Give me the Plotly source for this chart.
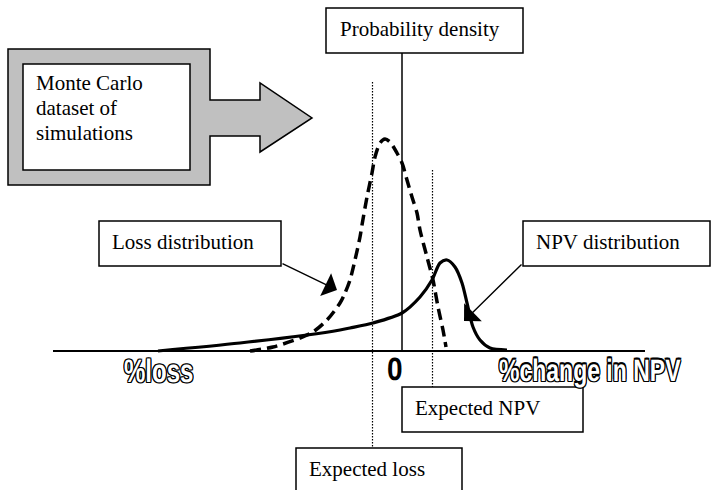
import plotly.graph_objects as go

# ---- data (x: % change relative to 0, y: probability density, arbitrary units) ----
loss_x = [-152, -129, -102, -89, -75, -62, -57, -52, -47, -42, -40, -35, -30, -27, -22,
          -17, -12, -5, 0, 5, 10, 15, 18, 25, 31, 36, 41, 44]
loss_y = [0, 4, 13, 19, 31, 48, 58, 71, 91, 114, 126, 154, 178, 194, 208,
          212, 209, 198, 188, 171, 154, 138, 121, 94, 71, 44, 21, 4]

npv_x = [-244, -162, -95, -62, -52, -29, 0, 18, 30, 38, 45, 53, 60, 65, 71, 78, 88, 105]
npv_y = [0, 8, 16, 21, 23, 28, 38, 54, 71, 88, 91, 84, 68, 48, 24, 11, 3, 1]

expected_loss_x = -30
expected_npv_x = 30

axis_labels = ["%loss", "0", "%change in NPV"]
box_labels = ["Probability density", "Loss distribution", "NPV distribution",
              "Expected NPV", "Expected loss"]
mc_lines = ["Monte Carlo", "dataset of", "simulations"]

# ---- layout helpers: pixel -> axis units ----
OX, OY = 402, 351
def X(px):
    return px - OX
def Y(py):
    return OY - py

SERIF = "Liberation Serif, Times New Roman, serif"
SANS = "Liberation Sans, Arial, sans-serif"
OUTLINE = ("-1px -1px 0 #000, 1px -1px 0 #000, -1px 1px 0 #000, 1px 1px 0 #000, "
           "0 1px 0 #000, 0 -1px 0 #000, 1px 0 0 #000, -1px 0 0 #000")

fig = go.Figure()

fig.add_trace(go.Scatter(x=loss_x, y=loss_y, mode="lines", name="Loss distribution",
                         line=dict(color="black", width=3.5, dash="11px,6px",
                                   shape="spline", smoothing=0.8),
                         hoverinfo="skip"))
fig.add_trace(go.Scatter(x=npv_x, y=npv_y, mode="lines", name="NPV distribution",
                         line=dict(color="black", width=3.2, shape="spline", smoothing=0.8),
                         hoverinfo="skip"))

shapes = []
# horizontal axis & vertical axis
shapes.append(dict(type="line", x0=X(53), x1=X(645), y0=0, y1=0,
                   line=dict(color="black", width=2)))
shapes.append(dict(type="line", x0=0, x1=0, y0=Y(53), y1=0,
                   line=dict(color="black", width=1.5)))
# dotted expectation lines (half-pixel offset for a crisp 1px dotted stroke)
for ex, top, bot in [(expected_loss_x, 82, 448), (expected_npv_x, 170, 387)]:
    shapes.append(dict(type="line", x0=ex + 0.5, x1=ex + 0.5, y0=Y(top), y1=Y(bot),
                       line=dict(color="black", width=1.2, dash="1.5px,1.5px")))

# Monte Carlo gray block arrow
pts = [(8, 49), (210, 49), (210, 100), (260, 100), (260, 83), (312, 118),
       (260, 152), (260, 136), (210, 136), (210, 185), (8, 185)]
path = "M " + " L ".join(f"{X(a)},{Y(b)}" for a, b in pts) + " Z"
shapes.append(dict(type="path", path=path, fillcolor="#c0c0c0",
                   line=dict(color="black", width=1.5)))
shapes.append(dict(type="rect", x0=X(23), x1=X(190), y0=Y(64), y1=Y(170),
                   fillcolor="white", line=dict(color="black", width=1.5)))

# label boxes
boxes = [(326, 8, 523, 53), (99, 221, 281, 266), (523, 221, 710, 266),
         (402, 387, 583, 432), (296, 448, 462, 493)]
for (a, b, c, d) in boxes:
    shapes.append(dict(type="rect", x0=X(a), x1=X(c), y0=Y(b), y1=Y(d),
                       fillcolor="white", line=dict(color="black", width=1.5)))

annotations = []
text_pos = [(338, 29), (110, 242), (534, 242), (413, 408), (307, 469)]
for txt, (a, b) in zip(box_labels, text_pos):
    annotations.append(dict(x=X(a), y=Y(b), text=txt, showarrow=False,
                            xanchor="left", yanchor="middle",
                            font=dict(family=SERIF, size=21, color="black")))
for i, txt in enumerate(mc_lines):
    annotations.append(dict(x=X(34), y=Y(83 + 25 * i), text=txt, showarrow=False,
                            xanchor="left", yanchor="middle",
                            font=dict(family=SERIF, size=21, color="black")))

# arrows from boxes to curves
annotations.append(dict(x=X(337), y=Y(290), ax=X(281), ay=Y(263), axref="x", ayref="y",
                        xref="x", yref="y", text="", showarrow=True,
                        arrowhead=1, arrowsize=3, arrowwidth=1.4, arrowcolor="black"))
annotations.append(dict(x=X(464), y=Y(321), ax=X(523), ay=Y(263), axref="x", ayref="y",
                        xref="x", yref="y", text="", showarrow=True,
                        arrowhead=1, arrowsize=3, arrowwidth=1.4, arrowcolor="black"))

# axis labels (outlined lettering)
annotations.append(dict(x=X(158), y=Y(370), text=axis_labels[0], showarrow=False,
                        xanchor="center", yanchor="middle",
                        font=dict(family=SANS, size=24, color="white", weight="bold",
                                  shadow=OUTLINE)))
annotations.append(dict(x=X(395), y=Y(369), text=axis_labels[1], showarrow=False,
                        xanchor="center", yanchor="middle",
                        font=dict(family=SANS, size=28, color="black", weight="bold")))
annotations.append(dict(x=X(590), y=Y(370), text=axis_labels[2], showarrow=False,
                        xanchor="center", yanchor="middle",
                        font=dict(family=SANS, size=23, color="white", weight="bold",
                                  shadow=OUTLINE)))

fig.update_layout(
    width=712, height=490, autosize=False,
    margin=dict(l=0, r=0, t=0, b=0),
    paper_bgcolor="white", plot_bgcolor="white",
    showlegend=False,
    xaxis=dict(range=[X(0), X(712)], visible=False, fixedrange=True),
    yaxis=dict(range=[Y(490), Y(0)], visible=False, fixedrange=True),
    shapes=shapes, annotations=annotations,
)

post = """
document.body.style.margin='0px';
function stretchLabels(){
  var tt = document.querySelectorAll('text.annotation-text');
  tt.forEach(function(t){
    if (t.getAttribute('data-stretched')) { return; }
    var s = t.textContent;
    var k = null;
    if (s === '%loss' || s === '%change in NPV') { k = 1.35; }
    else if (s === '0') { k = 1.15; }
    if (k) {
      var b = t.getBBox();
      var cy = b.y + b.height / 2;
      t.setAttribute('transform', 'translate(0,' + cy + ') scale(1,' + k + ') translate(0,' + (-cy) + ')');
      t.setAttribute('data-stretched', '1');
      t.style.textRendering = 'geometricPrecision';
    }
  });
}
stretchLabels();
setTimeout(stretchLabels, 30);
"""

fig.write_html("out.html", config={"displayModeBar": False}, post_script=post)
